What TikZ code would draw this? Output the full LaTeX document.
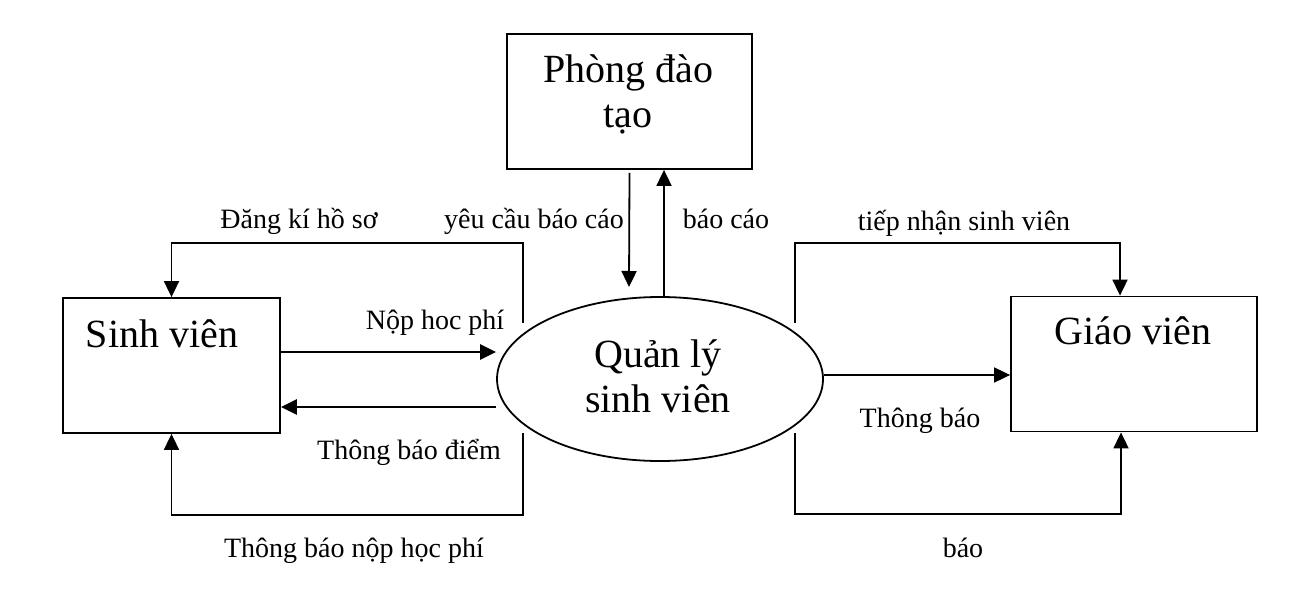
\documentclass[tikz,border=0pt]{standalone}
\usepackage{fontspec}
\setmainfont{Liberation Serif}
\usetikzlibrary{arrows.meta,shapes.geometric}

\begin{document}
\begin{tikzpicture}[x=1pt, y=-1pt,
        box/.style = {draw, line width=1.8pt, minimum width=#1, minimum height=135pt, inner sep=0pt},
        flow/.style = {line width=1.8pt, -{Triangle[length=16pt, width=15pt]}},
        big/.style = {font=\fontsize{40}{45}\selectfont, align=center, inner sep=0pt},
        lbl/.style = {font=\fontsize{28}{32}\selectfont, inner sep=0pt, anchor=base}]
        \useasboundingbox (0,0) rectangle (1308,591);

        \node[box=245pt] (pdt) at (629.5,101.5) {};
        \node[box=217pt] (sv) at (171.5,365.5) {};
        \node[box=246pt] (gv) at (1134,364) {};
        \node[draw, ellipse, line width=1.8pt, minimum width=326pt, minimum height=164pt] (ql) at (660,379) {};

        \node[big, anchor=base] (pdtText) at (628,128) {Phòng đào\\tạo};
        \node[big, anchor=base] (svText) at (162,347) {Sinh viên};
        \node[big, anchor=base] (gvText) at (1133,344) {Giáo viên};
        \node[big, anchor=base] (qlText) at (658,412) {Quản lý\\sinh viên};

        % corners of the side loops
        \coordinate (dkA) at (523,323);
        \coordinate (dkB) at (523,243);
        \coordinate (tbA) at (523,433);
        \coordinate (tbB) at (523,515);
        \coordinate (tnA) at (795,323);
        \coordinate (tnB) at (795,243);
        \coordinate (bA) at (795,433);
        \coordinate (bB) at (795,514);
        \coordinate (ycEnd) at (629,287);

        \draw[flow] ([yshift=-3pt]pdt.south) -- (ycEnd);
        \draw[flow] ([xshift=4pt]ql.north) -- ([xshift=4pt]ql.north |- pdt.south);

        \draw[flow, line width=2.8pt] ([yshift=13.5pt]sv.east) -- ([yshift=13.5pt]sv.east -| ql.west);
        \draw[flow, line width=2.8pt] ([yshift=-41.5pt]sv.east -| ql.west) -- ([yshift=-41.5pt]sv.east);
        \draw[flow] ([yshift=4pt]ql.east) -- ([yshift=4pt]ql.east -| gv.west);

        \draw[flow] (dkA) -- (dkB) -| (sv.north);
        \draw[flow] (tbA) -- (tbB) -| (sv.south);
        \draw[flow] (tnA) -- (tnB) -| ([xshift=-14pt]gv.north);
        \draw[flow] (bA) -- (bB) -| ([xshift=-13pt]gv.south);

        \node[lbl] (dk) at (299,228) {Đăng kí hồ sơ};
        \node[lbl] (yc) at (534,228) {yêu cầu báo cáo};
        \node[lbl] (bc) at (726,228) {báo cáo};
        \node[lbl] (tn) at (964,230) {tiếp nhận sinh viên};
        \node[lbl] (nhp) at (435,329) {Nộp hoc phí};
        \node[lbl] (tbd) at (409,459) {Thông báo điểm};
        \node[lbl] (tbnhp) at (354,557) {Thông báo nộp học phí};
        \node[lbl] (tb) at (920,427) {Thông báo};
        \node[lbl] (bao) at (963,557) {báo};

    \end{tikzpicture}
\end{document}
